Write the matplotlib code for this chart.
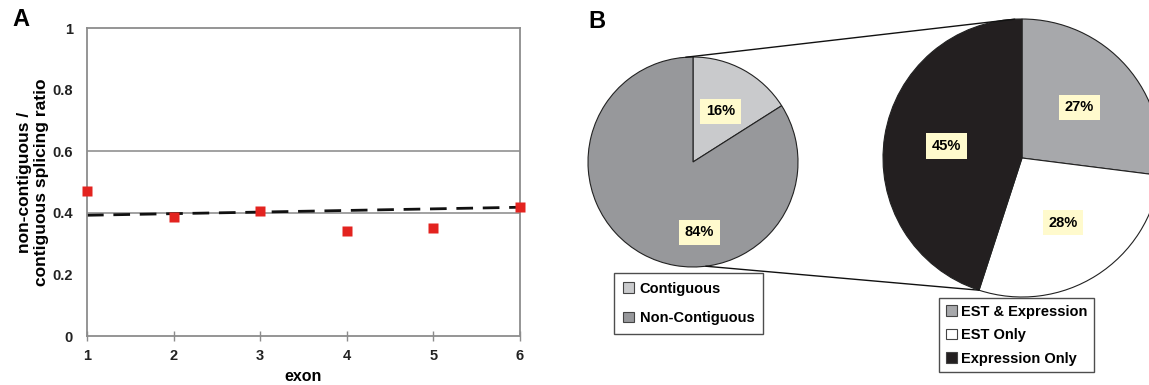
import numpy as np
import matplotlib
matplotlib.use("Agg")
import matplotlib.pyplot as plt
from matplotlib.patches import ConnectionPatch, Patch

plt.rcParams['font.family'] = ['Liberation Sans', 'DejaVu Sans']
plt.rcParams['font.weight'] = 'bold'

# panel A data
exons = [1, 2, 3, 4, 5, 6]
ratio = [0.472, 0.386, 0.407, 0.342, 0.350, 0.418]
trend_x = [1, 6]
trend_y = [0.392, 0.418]
ref_lines = [0.4, 0.6]
yticks = [0, 0.2, 0.4, 0.6, 0.8, 1]
ytick_labels = ['0', '0.2', '0.4', '0.6', '0.8', '1']

# panel B data
outer_labels = ['Contiguous', 'Non-Contiguous']
outer_pct = [16, 84]
outer_colors = ['#c9cacc', '#97989b']
inner_labels = ['EST & Expression', 'EST Only', 'Expression Only']
inner_pct = [27, 28, 45]
inner_colors = ['#a7a8ab', '#ffffff', '#231f20']

fig = plt.figure(figsize=(11.49, 3.85), dpi=100)
W, H = 1149.0, 385.0

# ---- panel A ----
ax = fig.add_axes([87 / W, (H - 336) / H, 433 / W, 308 / H])
for y in ref_lines:
    ax.axhline(y, color='#9a9a9a', lw=1.3, zorder=1)
ax.plot(trend_x, trend_y, color='#111111', lw=2, dashes=(6, 3.5), zorder=2)
ax.plot(exons, ratio, 's', color='#e3231f', ms=7.5, mec='none', clip_on=False, zorder=3)
ax.set_xlim(1, 6)
ax.set_ylim(0, 1)
ax.set_yticks(yticks)
ax.set_yticklabels(ytick_labels)
ax.set_xticks(exons)
for s in ax.spines.values():
    s.set_color('#8c8c8c')
    s.set_linewidth(1.3)
ax.tick_params(axis='y', length=0, pad=10, labelsize=10.5, colors='#222222')
ax.tick_params(axis='x', direction='inout', length=7, width=1, color='#8c8c8c',
               pad=6, labelsize=10.5, labelcolor='#222222')
ax.set_xlabel('exon', fontsize=11.5, fontweight='bold', labelpad=4)
ax.set_ylabel('non-contiguous /\ncontiguous splicing ratio', fontsize=12.5,
              fontweight='bold', linespacing=1.15)
ax.yaxis.set_label_coords(-38 / 433, 0.5)
fig.text(12 / W, 1 - 20 / H, 'A', fontsize=17, fontweight='bold', va='center')
fig.text(588 / W, 1 - 21 / H, 'B', fontsize=17, fontweight='bold', va='center')

# ---- panel B ----
bbox = dict(boxstyle='square,pad=0.4', fc='#fffacd', ec='none')

axl = fig.add_axes([588 / W, (H - 267) / H, 210 / W, 210 / H])
wl, tl, al = axl.pie(outer_pct, colors=outer_colors, startangle=90, counterclock=False,
                     radius=1, autopct='%d%%', pctdistance=0.55,
                     wedgeprops=dict(edgecolor='#222222', linewidth=0.8),
                     textprops=dict(fontsize=10.5, fontweight='bold'))
axl.set_xlim(-1, 1)
axl.set_ylim(-1, 1)
al[1].set_position((0.06, -0.67))
for t in al:
    t.set_bbox(bbox)

axr = fig.add_axes([883 / W, (H - 297) / H, 278 / W, 278 / H])
wr, tr, ar = axr.pie(inner_pct, colors=inner_colors, startangle=90, counterclock=False,
                     radius=1, autopct='%d%%', pctdistance=0.55,
                     wedgeprops=dict(edgecolor='#222222', linewidth=0.8),
                     textprops=dict(fontsize=10.5, fontweight='bold'))
axr.set_xlim(-1, 1)
axr.set_ylim(-1, 1)
for t in ar:
    t.set_bbox(bbox)

# connector lines from the non-contiguous slice edges to the detail pie
end_ang = np.deg2rad(90 - 360 * (inner_pct[0] + inner_pct[1]) / 100.0)
pts = [((np.cos(np.deg2rad(94)), np.sin(np.deg2rad(94))), (np.cos(np.deg2rad(93)), np.sin(np.deg2rad(93)))),
       ((np.cos(np.deg2rad(-83)), np.sin(np.deg2rad(-83))), (np.cos(end_ang), np.sin(end_ang)))]
for pa, pb in pts:
    con = ConnectionPatch(xyA=pa, coordsA=axl.transData, xyB=pb, coordsB=axr.transData,
                          color='#111111', lw=1.0)
    fig.add_artist(con)

hl = [Patch(fc=c, ec='#444444', lw=0.8) for c in outer_colors]
leg1 = fig.legend(hl, outer_labels, loc='upper left',
                  bbox_to_anchor=(614 / W, 1 - 273 / H), frameon=True, fancybox=False,
                  edgecolor='#222222', fontsize=10.5, labelspacing=1.05, handlelength=0.75,
                  handleheight=0.75, handletextpad=0.4, borderpad=0.6, borderaxespad=0)
leg1.get_frame().set_linewidth(1)
for t in leg1.get_texts():
    t.set_fontweight('bold')

hr = [Patch(fc=c, ec='#444444', lw=0.8) for c in inner_colors]
leg2 = fig.legend(hr, inner_labels, loc='upper left',
                  bbox_to_anchor=(939 / W, 1 - 298 / H), frameon=True, fancybox=False,
                  edgecolor='#222222', fontsize=10.5, labelspacing=0.65, handlelength=0.75,
                  handleheight=0.75, handletextpad=0.3, borderpad=0.45, borderaxespad=0)
leg2.get_frame().set_linewidth(1)
for t in leg2.get_texts():
    t.set_fontweight('bold')

fig.savefig('out.png', dpi=100)
